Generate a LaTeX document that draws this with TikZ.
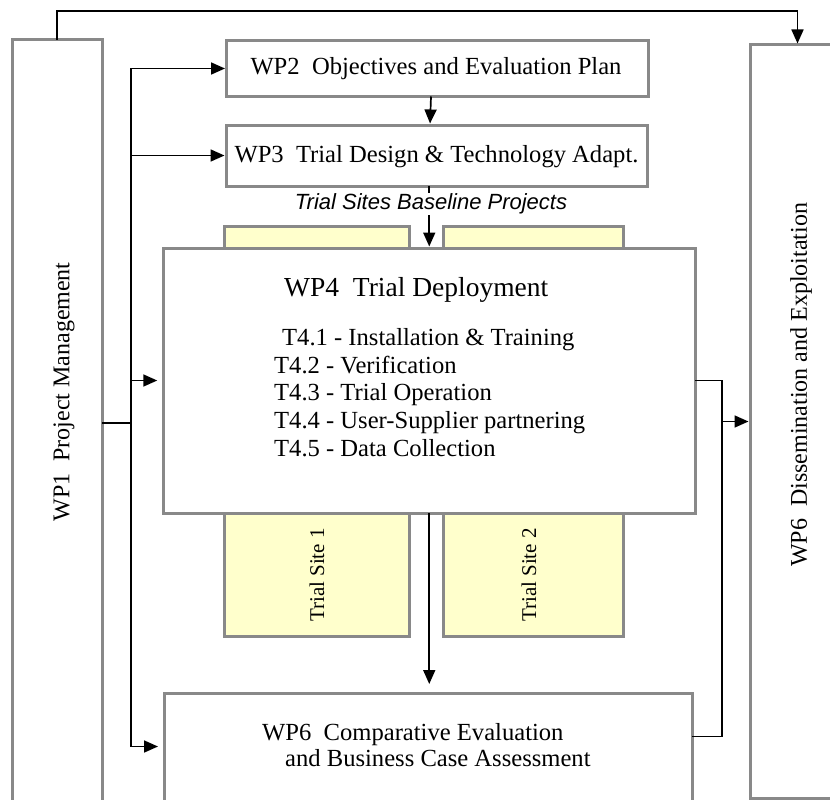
\documentclass[tikz,border=0pt]{standalone}
\usepackage{fontspec}
\setmainfont{Liberation Serif}
\newfontfamily\labelsans{Liberation Sans}
\usetikzlibrary{arrows.meta}
\definecolor{boxgray}{RGB}{137,137,137}
\definecolor{siteyellow}{RGB}{255,255,204}
\begin{document}
\begin{tikzpicture}[x=1pt,y=-1pt,
  wpbox/.style={rectangle,draw=boxgray,line width=3pt,fill=white,inner sep=0pt,outer sep=0pt},
  sitebox/.style={wpbox,fill=siteyellow},
  wptext/.style={font=\fontsize{24.6}{28}\selectfont,inner sep=0pt},
  sidetext/.style={font=\fontsize{24}{28}\selectfont,inner sep=0pt,rotate=90},
  sitetext/.style={font=\fontsize{21}{24}\selectfont,inner sep=0pt,rotate=90},
  link/.style={line width=1.7pt},
  arr/.style={link,-{Triangle[length=14pt,width=12pt]}}]
\useasboundingbox (0,0) rectangle (830,800);
\fill[white] (0,0) rectangle (830,800);
\clip (0,0) rectangle (830,800);

% side work packages
\node[wpbox,minimum width=90pt,minimum height=780pt] (wp1) at (57,430) {};
\node[wpbox,minimum width=100pt,minimum height=753pt] (wp6r) at (800,421.5) {};
\node[sidetext] (wp1lbl) at (64,392) {WP1\enspace Project Management};
\node[sidetext] (wp6rlbl) at (801,385) {WP6\enspace Dissemination and Exploitation};

% central work packages
\node[wpbox,minimum width=422pt,minimum height=56pt] (wp2) at (437.5,68.5) {};
\node[wptext] at ([xshift=-1.5pt]wp2) {WP2\enspace Objectives and Evaluation Plan};
\node[wpbox,minimum width=421pt,minimum height=61pt] (wp3) at (436.5,155.5) {};
\node[wptext] at ([yshift=-1.5pt]wp3) {WP3\enspace Trial Design \& Technology Adapt.};

% trial sites behind WP4
\node[sitebox,minimum width=185pt,minimum height=410pt] (site1) at (316.5,431) {};
\node[sitebox,minimum width=180pt,minimum height=410pt] (site2) at (533,431) {};
\node[sitetext] (site1lbl) at (317,575) {Trial Site 1};
\node[sitetext] (site2lbl) at (529,575) {Trial Site 2};

\node[wpbox,minimum width=532pt,minimum height=265pt] (wp4) at (429.25,380.5) {};
\node[inner sep=0pt,anchor=base west,font=\fontsize{27.5}{32}\selectfont] (wp4title) at (284,296) {WP4\enspace Trial Deployment};
\node[wptext,anchor=base west] (t41) at (282,345) {T4.1 - Installation \& Training};
\node[wptext,anchor=base west] (t42) at (274,373) {T4.2 - Verification};
\node[wptext,anchor=base west] (t43) at (274,400) {T4.3 - Trial Operation};
\node[wptext,anchor=base west] (t44) at (274,428) {T4.4 - User-Supplier partnering};
\node[wptext,anchor=base west] (t45) at (274,456) {T4.5 - Data Collection};

\node[wpbox,minimum width=528pt,minimum height=127pt] (wp6b) at (428,756.5) {};
\node[wptext,anchor=base west] (wp6bl1) at (262,740) {WP6\enspace Comparative Evaluation};
\node[wptext,anchor=base west] (wp6bl2) at (285,766) {and Business Case Assessment};

% connection points
\coordinate (toprail) at (400,11);
\coordinate (busj) at (131,423);
\coordinate (rbus) at (722,0);
\coordinate (wp6bin) at ([yshift=10pt]wp6b.west);
\coordinate (wp6bout) at ([yshift=20pt]wp6b.east);

% WP1 to WP6 dissemination
\draw[arr,shorten >=1.5pt] (wp1.north) |- (toprail) -| ([xshift=-2.5pt]wp6r.north);

% WP1 management bus
\draw[link] (wp1.east |- busj) -- (busj);
\draw[link] (busj |- wp2.west) -- (busj |- wp6bin);
\draw[arr,shorten >=1.5pt] (busj |- wp2.west) -- (wp2.west);
\draw[arr,shorten >=1.5pt] (busj |- wp3.west) -- (wp3.west);
\draw[arr,shorten >=6pt] (busj |- wp4.west) -- (wp4.west);
\draw[arr,shorten >=6pt] (busj |- wp6bin) -- (wp6bin);

% main flow
\draw[arr,shorten >=1.5pt] ([xshift=-6.5pt]wp2.south) -- ([xshift=-6.5pt]wp3.north);
\draw[arr,shorten >=1.5pt] (wp3.south -| wp4.north) -- (wp4.north);
\node[fill=white,inner sep=1pt,font=\labelsans\itshape\fontsize{22}{26}\selectfont] (baseline) at (431,204) {Trial Sites Baseline Projects};
\draw[arr,shorten >=9pt] (wp4.south) -- (wp4.south |- wp6b.north);

% results to dissemination
\draw[link] (wp4.east) -| (rbus |- wp6bout) -- (wp6bout);
\draw[arr,shorten >=1.5pt] (rbus |- wp6r.west) -- (wp6r.west);
\end{tikzpicture}
\end{document}
